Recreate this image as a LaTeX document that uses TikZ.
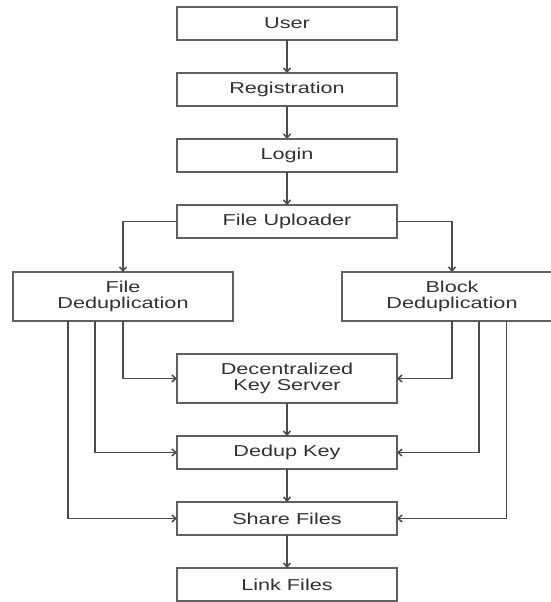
\documentclass[tikz,border=0pt]{standalone}
\usepackage{fontspec}
\setmainfont[FakeStretch=1.37]{Liberation Sans}
\usepackage{xcolor}
\usepackage{tikz}
\usetikzlibrary{positioning, arrows.meta}
\definecolor{boxgray}{RGB}{96,96,96}
\definecolor{linegray}{RGB}{75,75,75}
\definecolor{textgray}{RGB}{50,50,50}
\newcommand{\labelfont}{\fontsize{15.8}{16.7}\selectfont}

\begin{document}
\begin{tikzpicture}[
    x=1pt, y=1pt,
    node distance=33pt and 0pt,
    box/.style={rectangle, draw=boxgray, line width=1.5pt, fill=white, minimum width=220pt, minimum height=33pt, outer sep=0pt, align=center, font=\labelfont, text=textgray, inner sep=0pt},
    tallbox/.style={box, minimum height=49pt},
    arrow/.style={-{Straight Barb[length=4pt,width=7pt]}, line width=1.5pt, draw=linegray}
]
    \useasboundingbox (0,0) rectangle (551,-602);
    \clip (0,0) rectangle (551,-602);

    \node[box] (user) at (287,-23.5) {User};
    \node[box, below=of user] (reg) {Registration};
    \node[box, below=of reg] (login) {Login};
    \node[box, below=of login] (upl) {File Uploader};
    \node[tallbox, below=34pt of upl, xshift=-164pt] (fdd) {File\\ Deduplication};
    \node[tallbox, below=34pt of upl, xshift=165pt] (bdd) {Block\\ Deduplication};
    \node[tallbox, below=116pt of upl] (dks) {Decentralized\\ Key Server};
    \node[box, below=of dks] (dkey) {Dedup Key};
    \node[box, below=of dkey] (share) {Share Files};
    \node[box, below=of share] (link) {Link Files};

    \draw[arrow] (user) -- (reg);
    \draw[arrow] (reg) -- (login);
    \draw[arrow] (login) -- (upl);
    \draw[arrow] (upl.west) -| (fdd.north);
    \draw[arrow] (upl.east) -| (bdd.north);

    % left side feeds
    \draw[arrow] (fdd.south) |- (dks.west);
    \draw[arrow] ([xshift=-28pt]fdd.south) |- (dkey.west);
    \draw[arrow] ([xshift=-55pt]fdd.south) |- (share.west);

    % right side feeds
    \draw[arrow] (bdd.south) |- (dks.east);
    \draw[arrow] ([xshift=27pt]bdd.south) |- (dkey.east);
    \draw[arrow] ([xshift=54.5pt]bdd.south) |- (share.east);

    \draw[arrow] (dks) -- (dkey);
    \draw[arrow] (dkey) -- (share);
    \draw[arrow] (share) -- (link);
\end{tikzpicture}
\end{document}
